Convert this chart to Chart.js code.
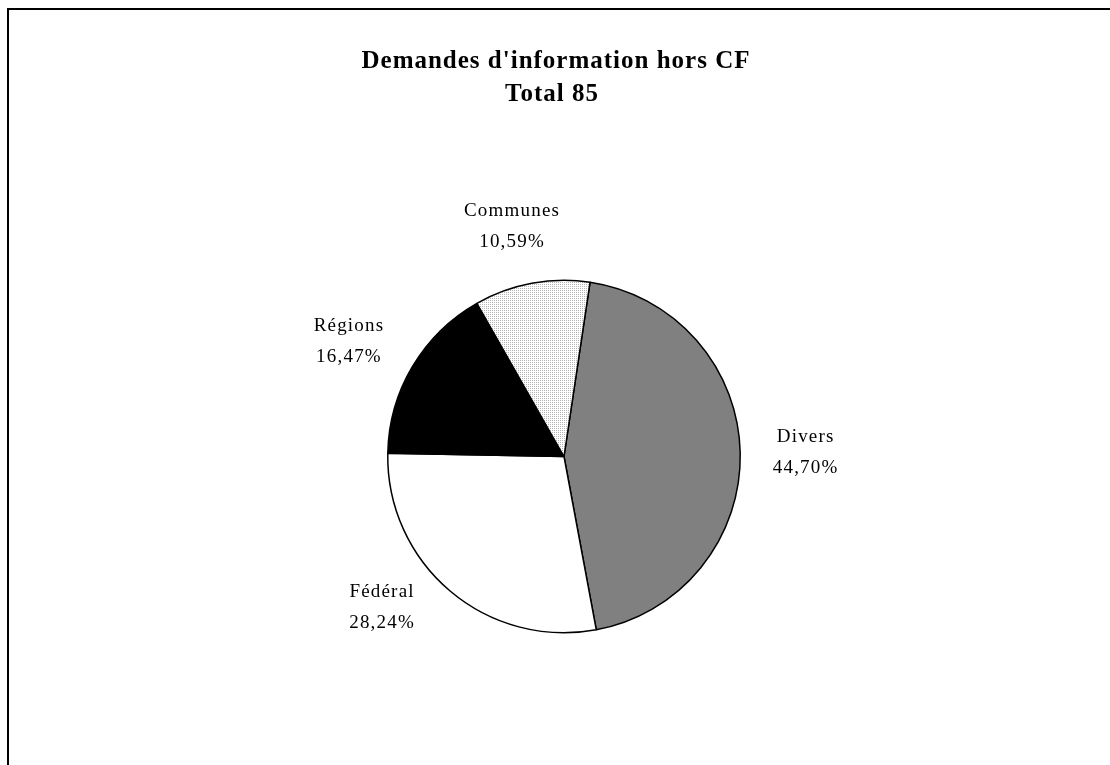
<!DOCTYPE html>
<html>
<head>
<meta charset="utf-8">
<style>
  html, body { margin: 0; padding: 0; background: #fff; }
  #wrap { position: relative; width: 1110px; height: 765px; overflow: hidden; }
  #cadre {
    position: absolute; left: 7px; top: 8px; width: 1200px; height: 900px;
    border-left: 2px solid #000; border-top: 2px solid #000;
  }
  canvas { position: absolute; left: 0; top: 0; }
</style>
</head>
<body>
<div id="wrap">
  <div id="cadre"></div>
  <canvas id="camembert" width="1110" height="765"></canvas>
</div>
<script src="https://cdn.jsdelivr.net/npm/chart.js"></script>
<script>
  // Données (85 demandes au total)
  const titre = ["Demandes d'information hors CF", 'Total 85'];
  const categories = ['Divers', 'Fédéral', 'Régions', 'Communes'];
  const demandes = [38, 24, 14, 9];
  const pourcentages = ['44,70%', '28,24%', '16,47%', '10,59%'];

  // motif pointillé pour "Communes"
  const motifCanvas = document.createElement('canvas');
  motifCanvas.width = 2; motifCanvas.height = 2;
  const mctx = motifCanvas.getContext('2d');
  mctx.fillStyle = '#fff'; mctx.fillRect(0, 0, 2, 2);
  mctx.fillStyle = '#b4b4b4'; mctx.fillRect(0, 0, 1, 1);
  const motif = mctx.createPattern(motifCanvas, 'repeat');

  const couleurs = ['#808080', '#ffffff', '#000000', motif];

  // petits décalages des étiquettes (comme Excel les place)
  const decalages = [[2, 0], [-27, -32], [-9, 7], [-8, 5]];

  // titre + étiquettes extérieures
  const etiquettes = {
    id: 'etiquettes',
    afterDraw(chart) {
      const ctx = chart.ctx;
      ctx.save();
      ctx.fillStyle = '#000';
      ctx.textAlign = 'center';
      ctx.textBaseline = 'middle';
      ctx.font = 'bold 25px "Liberation Serif", serif';
      ctx.letterSpacing = '1px';
      ctx.fillText(titre[0], 556, 62);
      ctx.fillText(titre[1], 552, 95);

      ctx.font = '19px "Liberation Serif", serif';
      ctx.letterSpacing = '1.2px';
      chart.getDatasetMeta(0).data.forEach((arc, i) => {
        const mid = (arc.startAngle + arc.endAngle) / 2;
        const r = arc.outerRadius * 1.36;
        const x = arc.x + Math.cos(mid) * r + decalages[i][0];
        const y = arc.y + Math.sin(mid) * r + decalages[i][1];
        ctx.fillText(categories[i], x, y - 15);
        ctx.fillText(pourcentages[i], x, y + 16);
      });
      ctx.restore();
    }
  };

  new Chart(document.getElementById('camembert'), {
    type: 'pie',
    data: {
      labels: categories,
      datasets: [{
        data: demandes,
        backgroundColor: couleurs,
        borderColor: '#000',
        borderWidth: 1.5,
        borderAlign: 'center'
      }]
    },
    options: {
      responsive: false,
      animation: false,
      rotation: 8.5,
      layout: { padding: { left: 387, right: 369, top: 279, bottom: 131 } },
      plugins: {
        legend: { display: false },
        title: { display: false },
        tooltip: { enabled: false }
      }
    },
    plugins: [etiquettes]
  });
</script>
</body>
</html>
